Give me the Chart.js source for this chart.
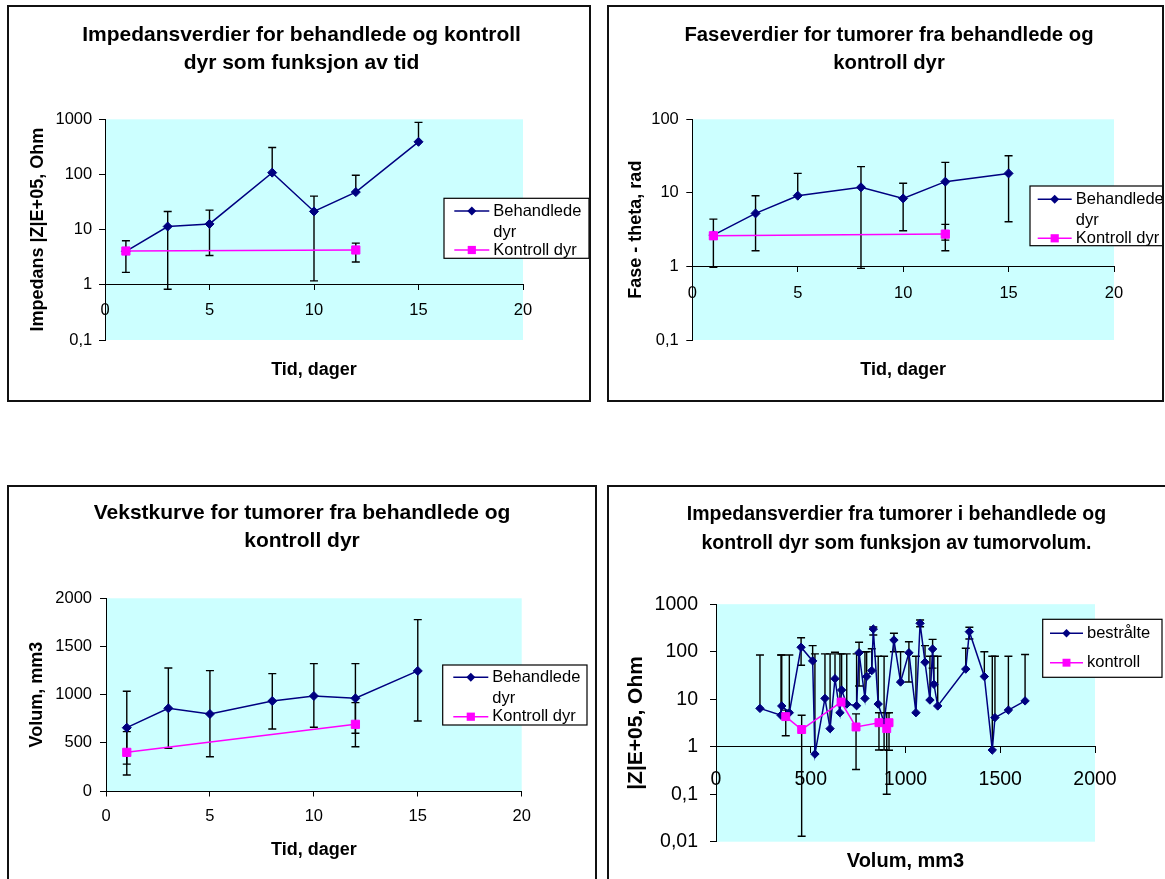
<!DOCTYPE html>
<html lang="no">
<head>
<meta charset="utf-8">
<title>Impedans, fase og vekst for tumorer</title>
<script src="https://cdn.jsdelivr.net/npm/chart.js"></script>
<style>
  html, body { margin: 0; padding: 0; background: #fff; }
  body { width: 1165px; height: 879px; position: relative; overflow: hidden; }
  .panel { position: absolute; }
  .panel canvas { position: absolute; left: 0; top: 0; }
  .frame { position: absolute; left: 0; top: 0; right: 0; bottom: 0; border: 2px solid #111; box-sizing: border-box; pointer-events: none; }
  #p1 { left: 7px; top: 5px; width: 584px; height: 397px; }
  #p2 { left: 607px; top: 5px; width: 557px; height: 397px; }
  #p3 { left: 7px; top: 485px; width: 590px; height: 400px; }
  #p4 { left: 607px; top: 485px; width: 566px; height: 400px; }
</style>
</head>
<body>
<div class="panel" id="p1"><canvas id="chart1" width="584" height="397"></canvas><div class="frame"></div></div>
<div class="panel" id="p2"><canvas id="chart2" width="557" height="397"></canvas><div class="frame"></div></div>
<div class="panel" id="p3"><canvas id="chart3" width="590" height="400"></canvas><div class="frame"></div></div>
<div class="panel" id="p4"><canvas id="chart4" width="566" height="400"></canvas><div class="frame"></div></div>

<script>
const FONT = '"Liberation Sans", Arial, Helvetica, sans-serif';

// tidsakse (dager)
const days = [1, 3, 5, 8, 10, 12, 15];
const kontrollDays = [1, 12];
const dayTicks = [0, 5, 10, 15, 20];
const dayTickLabels = ['0', '5', '10', '15', '20'];

// 1: impedans mot tid
const impBehandlede = [4.05, 11.4, 12.7, 108, 21.4, 48, 391];
const impBehandledeHigh = [6.3, 21.4, 22.6, 309, 40.6, 97, 880];
const impBehandledeLow = [1.68, 0.83, 3.4, null, 1.18, null, null];
const impKontroll = [4.1, 4.28];
const impKontrollHigh = [null, 5.7];
const impKontrollLow = [null, 2.6];
const impTicks = [0.1, 1, 10, 100, 1000];
const impTickLabels = ['0,1', '1', '10', '100', '1000'];

// 2: fase mot tid
const faseBehandlede = [2.67, 5.26, 9.15, 11.9, 8.4, 14.2, 18.4];
const faseBehandledeHigh = [4.4, 9.15, 18.4, 22.7, 13.5, 26, 32];
const faseBehandledeLow = [0.97, 1.63, null, 0.94, 3.06, 2.28, 4.05];
const faseKontroll = [2.61, 2.75];
const faseKontrollHigh = [null, 3.73];
const faseKontrollLow = [null, 1.63];
const faseTicks = [0.1, 1, 10, 100];
const faseTickLabels = ['0,1', '1', '10', '100'];

// 3: vekstkurve
const volBehandlede = [657, 858, 799, 934, 986, 962, 1246];
const volBehandledeHigh = [1035, 1277, 1249, 1218, 1322, 1322, 1779];
const volBehandledeLow = [279, 443, 356, 644, 661, 599, 727];
const volKontroll = [401, 692];
const volKontrollHigh = [616, 917];
const volKontrollLow = [166, 460];
const volTicks = [0, 500, 1000, 1500, 2000];
const volTickLabels = ['0', '500', '1000', '1500', '2000'];

// 4: impedans mot tumorvolum
const bestralteVol = [232, 343, 347, 387, 449, 510, 522, 575, 602, 628, 654, 663, 690, 742, 755, 786, 795, 822, 830,
  856, 887, 939, 974, 1018, 1055, 1077, 1103, 1129, 1143, 1150, 1170, 1318, 1337, 1416, 1458, 1472, 1543, 1631];
const bestralteZ = [6.4, 4.6, 7.2, 5.2, 124, 64, 0.7, 10.4, 2.4, 27, 5.2, 15.6, 7.9, 7.3, 95, 10.4, 30, 40, 300,
  7.9, 3.2, 176, 23, 95, 5.2, 396, 60, 9.6, 114, 20.6, 7.2, 43, 264, 30, 0.85, 4.1, 5.9, 9.2];
const bestralteHigh = [85, 85, 85, 85, 197, 134, 90, 90, 90, 97, 90, 90, 90, 90, 158, 100, 100, 115, 330,
  80, 80, 244, 100, 162, 80, 465, 134, 80, 182, 80, 80, 118, 326, 100, 80, 80, 80, 87];
const bestralteLow = [null, null, null, null, 52, null, null, null, null, null, null, null, null, null, 19, null, null, null, 225,
  null, 0.85, 100, null, 23, null, 336, null, null, 45, null, null, null, 185, null, null, null, null, null];
const kontrollVol = [368, 452, 660, 739, 860, 901, 913];
const kontrollZ = [4.3, 2.3, 8.7, 2.6, 3.2, 2.4, 3.2];
const kontrollHigh = [5.9, 4.6, null, 4.9, 5.2, 5.2, 5.2];
const kontrollLow = [1.7, 0.013, null, 0.33, 0.85, 0.1, 0.84];
const zTicks = [0.01, 0.1, 1, 10, 100, 1000];
const zTickLabels = ['0,01', '0,1', '1', '10', '100', '1000'];
const volumTicks = [0, 500, 1000, 1500, 2000];
const volumTickLabels = ['0', '500', '1000', '1500', '2000'];

const NAVY = '#000080';
const MAGENTA = '#FF00FF';

// cyan plot area
const plotBackground = {
    id: 'plotBackground',
    beforeDraw(chart) {
        const a = chart.chartArea;
        chart.ctx.save();
        chart.ctx.fillStyle = '#CCFFFF';
        chart.ctx.fillRect(a.left, a.top, a.right - a.left, a.bottom - a.top);
        chart.ctx.restore();
    }
};

// vertical error bars read from dataset.errHigh / dataset.errLow
const errorBars = {
    id: 'errorBars',
    beforeDatasetsDraw(chart) {
        const ctx = chart.ctx;
        ctx.save();
        ctx.strokeStyle = '#000';
        ctx.lineWidth = 1.4;
        chart.data.datasets.forEach((ds, i) => {
            const meta = chart.getDatasetMeta(i);
            const yScale = chart.scales[meta.yAxisID];
            meta.data.forEach((pt, j) => {
                const hi = ds.errHigh[j], lo = ds.errLow[j];
                if (hi == null && lo == null) return;
                const top = hi != null ? yScale.getPixelForValue(hi) : pt.y;
                const bottom = lo != null ? yScale.getPixelForValue(lo) : pt.y;
                ctx.beginPath();
                ctx.moveTo(pt.x, top);
                ctx.lineTo(pt.x, bottom);
                if (hi != null) { ctx.moveTo(pt.x - 4, top); ctx.lineTo(pt.x + 4, top); }
                if (lo != null) { ctx.moveTo(pt.x - 4, bottom); ctx.lineTo(pt.x + 4, bottom); }
                ctx.stroke();
            });
        });
        ctx.restore();
    }
};

function drawMarker(ctx, style, x, y, r, color) {
    ctx.fillStyle = color;
    ctx.beginPath();
    if (style === 'rectRot') {
        ctx.moveTo(x, y - r); ctx.lineTo(x + r, y); ctx.lineTo(x, y + r); ctx.lineTo(x - r, y);
    } else {
        const h = r * Math.SQRT1_2;
        ctx.rect(x - h, y - h, 2 * h, 2 * h);
    }
    ctx.closePath();
    ctx.fill();
}

// Excel style legend box
const boxLegend = {
    id: 'boxLegend',
    afterDraw(chart, args, o) {
        const ctx = chart.ctx;
        ctx.save();
        ctx.fillStyle = '#fff';
        ctx.fillRect(o.left, o.top, o.width, o.height);
        ctx.strokeStyle = '#000';
        ctx.lineWidth = 1.2;
        ctx.strokeRect(o.left, o.top, o.width, o.height);
        ctx.font = o.fontSize + 'px ' + FONT;
        ctx.textBaseline = 'middle';
        let y = o.top + o.firstY;
        chart.data.datasets.forEach(ds => {
            ctx.strokeStyle = ds.borderColor;
            ctx.lineWidth = ds.borderWidth;
            ctx.beginPath();
            ctx.moveTo(o.lineFrom, y);
            ctx.lineTo(o.lineTo, y);
            ctx.stroke();
            drawMarker(ctx, ds.pointStyle, (o.lineFrom + o.lineTo) / 2, y, ds.pointRadius, ds.borderColor);
            // wrap label to the box
            const maxW = o.left + o.width - o.textX - 2;
            const lines = [];
            ds.label.split(' ').forEach(word => {
                const last = lines.length ? lines[lines.length - 1] : null;
                if (last !== null && ctx.measureText(last + ' ' + word).width <= maxW) {
                    lines[lines.length - 1] = last + ' ' + word;
                } else {
                    lines.push(word);
                }
            });
            ctx.fillStyle = '#000';
            lines.forEach((ln, k) => ctx.fillText(ln, o.textX, y + k * o.wrapGap));
            y += o.pitch;
        });
        ctx.restore();
    }
};

function tickSetup(values, labels) {
    return {
        afterBuildTicks: scale => { scale.ticks = values.map(v => ({ value: v })); },
        callback: value => labels[values.indexOf(value)]
    };
}

function series(label, xs, ys, hi, lo, color, marker, radius, order) {
    return {
        label: label,
        data: xs.map((x, i) => ({ x: x, y: ys[i] })),
        errHigh: hi,
        errLow: lo,
        borderColor: color,
        backgroundColor: color,
        pointBackgroundColor: color,
        pointBorderColor: color,
        borderWidth: 1.5,
        pointBorderWidth: 1,
        pointStyle: marker,
        pointRadius: radius,
        pointHoverRadius: radius,
        tension: 0,
        order: order,
        xAxisID: 'x',
        yAxisID: 'y'
    };
}

function makeChart(id, o) {
    const yt = tickSetup(o.y.ticks, o.y.labels);
    const xt = tickSetup(o.x.ticks, o.x.labels);
    const scales = {
        x: {
            type: 'linear', min: o.x.min, max: o.x.max, position: o.x.position,
            afterBuildTicks: xt.afterBuildTicks,
            grid: { display: true, drawOnChartArea: false, drawTicks: true, tickLength: o.x.tickLength, color: '#000' },
            border: { display: true, color: '#000', width: 1 },
            ticks: { callback: xt.callback, padding: o.x.tickPadding, font: { size: o.x.fontSize }, maxRotation: 0, autoSkip: false }
        },
        y: {
            type: o.y.type, min: o.y.min, max: o.y.max, position: 'left',
            afterBuildTicks: yt.afterBuildTicks,
            afterFit: s => { s.width = o.y.width; },
            grid: { display: true, drawOnChartArea: false, drawTicks: true, tickLength: 6, color: '#000' },
            border: { display: true, color: '#000', width: 1 },
            ticks: { callback: yt.callback, padding: o.y.tickPadding, font: { size: o.y.fontSize }, autoSkip: false },
            title: { display: true, text: o.y.title, font: { size: o.y.titleSize, weight: 'bold' }, padding: { top: o.y.titlePad, bottom: 0 } }
        },
        yr: {
            type: 'linear', position: 'right', display: true,
            afterFit: s => { s.width = o.rightGap; },
            ticks: { display: false }, grid: { display: false }, border: { display: false }
        }
    };
    const xTitle = { display: true, text: o.xTitle.text, font: { size: o.xTitle.size, weight: 'bold' }, padding: { top: 0, bottom: 0 } };
    if (o.x.position === 'bottom') {
        scales.x.title = xTitle;
        scales.x.afterFit = s => { s.height = o.xTitle.height; };
    } else {
        scales.xt = {
            type: 'linear', position: 'bottom', display: true,
            afterFit: s => { s.height = o.xTitle.height; },
            ticks: { display: false }, grid: { display: false }, border: { display: false },
            title: xTitle
        };
    }

    return new Chart(document.getElementById(id), {
        type: 'line',
        data: { datasets: o.datasets },
        options: {
            responsive: false,
            animation: false,
            devicePixelRatio: 1,
            events: [],
            layout: { padding: { left: o.padLeft, right: 0, top: 0, bottom: o.padBottom } },
            scales: scales,
            plugins: {
                legend: { display: false },
                tooltip: { enabled: false },
                title: {
                    display: true, text: o.title, color: '#000',
                    font: { size: o.titleSize, weight: 'bold', lineHeight: o.titleLineHeight },
                    padding: o.titlePad
                },
                boxLegend: o.legend
            }
        },
        plugins: [plotBackground, errorBars, boxLegend]
    });
}

function createCharts() {
    Chart.defaults.font.family = FONT;
    Chart.defaults.color = '#000';

    makeChart('chart1', {
        title: ['Impedansverdier for behandlede og kontroll', 'dyr som funksjon av tid'],
        titleSize: 21, titleLineHeight: 1.348, titlePad: { top: 15.9, bottom: 41.8 },
        padLeft: 5, padBottom: 21.2, rightGap: 68,
        y: { type: 'logarithmic', min: 0.1, max: 1000, ticks: impTicks, labels: impTickLabels, width: 93,
             tickPadding: 6.8, fontSize: 16.5, title: 'Impedans |Z|E+05, Ohm', titleSize: 18, titlePad: 14.8 },
        x: { min: 0, max: 20, ticks: dayTicks, labels: dayTickLabels, position: { y: 1 }, tickLength: 5, tickPadding: 11.1, fontSize: 16.5 },
        xTitle: { text: 'Tid, dager', size: 18, height: 40.8 },
        legend: { left: 437, top: 193.3, width: 145, height: 60, lineFrom: 447.3, lineTo: 482.3, textX: 486.3,
                  firstY: 12.7, pitch: 39, wrapGap: 21.5, fontSize: 16.5 },
        datasets: [
            series('Behandlede dyr', days, impBehandlede, impBehandledeHigh, impBehandledeLow, NAVY, 'rectRot', 4.5, 1),
            series('Kontroll dyr', kontrollDays, impKontroll, impKontrollHigh, impKontrollLow, MAGENTA, 'rect', 5.8, 0)
        ]
    });

    makeChart('chart2', {
        title: ['Faseverdier for tumorer fra behandlede og', 'kontroll dyr'],
        titleSize: 20.3, titleLineHeight: 1.394, titlePad: { top: 15.9, bottom: 41.8 },
        padLeft: 7, padBottom: 21.2, rightGap: 50,
        y: { type: 'logarithmic', min: 0.1, max: 100, ticks: faseTicks, labels: faseTickLabels, width: 78.3,
             tickPadding: 7.5, fontSize: 16.5, title: 'Fase - theta, rad', titleSize: 18, titlePad: 11.2 },
        x: { min: 0, max: 20, ticks: dayTicks, labels: dayTickLabels, position: { y: 1 }, tickLength: 5, tickPadding: 12.1, fontSize: 16.5 },
        xTitle: { text: 'Tid, dager', size: 18, height: 40.8 },
        legend: { left: 423, top: 181, width: 134, height: 59.7, lineFrom: 430.7, lineTo: 464.7, textX: 468.7,
                  firstY: 13.3, pitch: 39, wrapGap: 20.7, fontSize: 16.5 },
        datasets: [
            series('Behandlede dyr', days, faseBehandlede, faseBehandledeHigh, faseBehandledeLow, NAVY, 'rectRot', 4.5, 1),
            series('Kontroll dyr', kontrollDays, faseKontroll, faseKontrollHigh, faseKontrollLow, MAGENTA, 'rect', 5.8, 0)
        ]
    });

    makeChart('chart3', {
        title: ['Vekstkurve for tumorer fra behandlede og', 'kontroll dyr'],
        titleSize: 21, titleLineHeight: 1.352, titlePad: { top: 14.1, bottom: 42.4 },
        padLeft: 0, padBottom: 24.2, rightGap: 75.3,
        y: { type: 'linear', min: 0, max: 2000, ticks: volTicks, labels: volTickLabels, width: 99,
             tickPadding: 8, fontSize: 16.5, title: 'Volum, mm3', titleSize: 18, titlePad: 19.2 },
        x: { min: 0, max: 20, ticks: dayTicks, labels: dayTickLabels, position: 'bottom', tickLength: 5.5, tickPadding: 10.2, fontSize: 16.5 },
        xTitle: { text: 'Tid, dager', size: 18, height: 69.8 },
        legend: { left: 435.7, top: 180, width: 144.3, height: 60, lineFrom: 446.3, lineTo: 481.3, textX: 485.3,
                  firstY: 12.3, pitch: 39.4, wrapGap: 21, fontSize: 16.5 },
        datasets: [
            series('Behandlede dyr', days, volBehandlede, volBehandledeHigh, volBehandledeLow, NAVY, 'rectRot', 4.5, 1),
            series('Kontroll dyr', kontrollDays, volKontroll, volKontrollHigh, volKontrollLow, MAGENTA, 'rect', 5.8, 0)
        ]
    });

    makeChart('chart4', {
        title: ['Impedansverdier fra tumorer i behandlede og', 'kontroll dyr som funksjon av tumorvolum.'],
        titleSize: 19.5, titleLineHeight: 1.487, titlePad: { top: 14.8, bottom: 46.4 },
        padLeft: 13, padBottom: 11.3, rightGap: 78,
        y: { type: 'logarithmic', min: 0.01, max: 1000, ticks: zTicks, labels: zTickLabels, width: 96,
             tickPadding: 12, fontSize: 19.5, title: '|Z|E+05, Ohm', titleSize: 21, titlePad: 3.4 },
        x: { min: 0, max: 2000, ticks: volumTicks, labels: volumTickLabels, position: { y: 1 }, tickLength: 6, tickPadding: 15.6, fontSize: 19.5 },
        xTitle: { text: 'Volum, mm3', size: 20, height: 32 },
        legend: { left: 435.7, top: 134.3, width: 119.3, height: 58, lineFrom: 443, lineTo: 476, textX: 480,
                  firstY: 14, pitch: 29.4, wrapGap: 21, fontSize: 16.5 },
        datasets: [
            series('bestrålte', bestralteVol, bestralteZ, bestralteHigh, bestralteLow, NAVY, 'rectRot', 4.2, 1),
            series('kontroll', kontrollVol, kontrollZ, kontrollHigh, kontrollLow, MAGENTA, 'rect', 5.6, 0)
        ]
    });
}

document.addEventListener('DOMContentLoaded', function() {
    createCharts();
});
</script>
</body>
</html>
